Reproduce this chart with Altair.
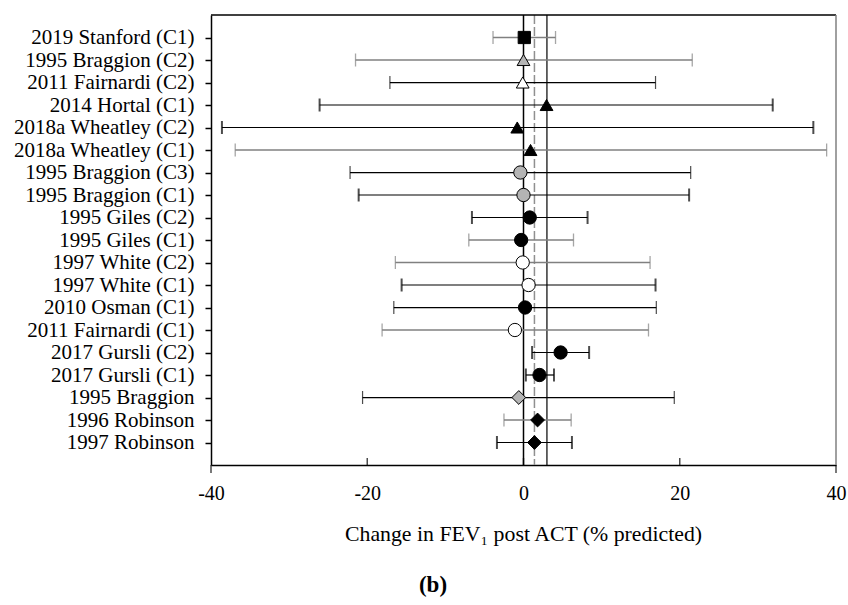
import altair as alt
import pandas as pd

studies = ["2019 Stanford (C1)", "1995 Braggion (C2)", "2011 Fairnardi (C2)", "2014 Hortal (C1)",
           "2018a Wheatley (C2)", "2018a Wheatley (C1)", "1995 Braggion (C3)", "1995 Braggion (C1)",
           "1995 Giles (C2)", "1995 Giles (C1)", "1997 White (C2)", "1997 White (C1)",
           "2010 Osman (C1)", "2011 Fairnardi (C1)", "2017 Gursli (C2)", "2017 Gursli (C1)",
           "1995 Braggion", "1996 Robinson", "1997 Robinson"]
est = [0.1, 0.0, -0.1, 2.95, -0.8, 0.9, -0.4, 0.0, 0.8, -0.3, -0.1, 0.65, 0.2, -1.1, 4.75, 2.05, -0.6, 1.8, 1.4]
lo = [-3.9, -21.5, -17.1, -26.1, -38.6, -36.9, -22.2, -21.1, -6.6, -7.0, -16.4, -15.6, -16.6, -18.1, 1.1, 0.3, -20.6, -2.5, -3.4]
hi = [4.1, 21.6, 16.9, 31.9, 37.1, 38.8, 21.4, 21.2, 8.2, 6.4, 16.2, 16.9, 17.0, 16.0, 8.4, 3.9, 19.3, 6.1, 6.2]
marker = ["square", "triangle", "triangle", "triangle", "triangle", "triangle", "circle", "circle",
          "circle", "circle", "circle", "circle", "circle", "circle", "circle", "circle",
          "diamond", "diamond", "diamond"]
fill_group = ["black", "gray", "white", "black", "black", "black", "gray", "gray", "black", "black",
              "white", "white", "black", "white", "black", "black", "gray", "black", "black"]
line_group = ["gray", "gray", "thin", "thick", "thick", "gray", "thin", "thick", "thick", "gray",
              "gray", "thick", "thin", "gray", "thick", "thick", "thin", "gray", "thick"]
x_ticks = [-40, -20, 0, 20, 40]
inner_ticks = [-20, 0, 20]
edge_ticks = [-40, 40]
ref_zero = [0]
ref_dashed = [1.4]
ref_solid = [3.0]

df = pd.DataFrame({"study": studies, "est": est, "lo": lo, "hi": hi,
                   "marker": marker, "fillg": fill_group, "lineg": line_group})

W, H = 625, 450
FONT = "Liberation Serif"
STEP = H / (len(studies) + 1)

xscale = alt.Scale(domain=[-40, 40], nice=False, zero=False)
yenc = alt.Y("study:N", sort=studies, scale=alt.Scale(type="point", padding=1),
             axis=alt.Axis(title=None, labelFont=FONT, labelFontSize=21, labelColor="black",
                           labelLimit=0, tickColor="black", tickSize=6, tickWidth=1.5, labelPadding=11,
                           domainColor="black", domainWidth=1.5))
ysimple = alt.Y("study:N", sort=studies)

line_color = alt.Color("lineg:N", scale=alt.Scale(domain=["gray", "thin", "thick"],
                                                  range=["#808080", "#000000", "#000000"]), legend=None)
line_width = alt.StrokeWidth("lineg:N", scale=alt.Scale(domain=["gray", "thin", "thick"],
                                                        range=[1.3, 1.2, 2.0]), legend=None)

base = alt.Chart(df)

xaxis = alt.Axis(values=x_ticks, ticks=False, labelFont=FONT, labelFontSize=20, labelColor="black",
                 labelPadding=18, domainColor="black", domainWidth=1.5, grid=False, title=None,
                 labelFlush=False, labelExpr="'' + datum.value")

zero_line = alt.Chart(pd.DataFrame({"v": ref_zero})).mark_rule(color="black", strokeWidth=1.5).encode(
    x=alt.X("v:Q", scale=xscale, axis=xaxis))
dash_line = alt.Chart(pd.DataFrame({"v": ref_dashed})).mark_rule(
    color="#909090", strokeWidth=1.5, strokeDash=[9, 3]).encode(x=alt.X("v:Q", scale=xscale))
solid_line = alt.Chart(pd.DataFrame({"v": ref_solid})).mark_rule(color="black", strokeWidth=1.2).encode(
    x=alt.X("v:Q", scale=xscale))

bars = base.mark_rule().encode(
    x=alt.X("lo:Q", scale=xscale), x2="hi:Q", y=yenc, color=line_color, strokeWidth=line_width)

caps = []
for grp, th in [("gray", 1.3), ("thin", 1.2), ("thick", 2.0)]:
    for fld in ["lo", "hi"]:
        caps.append(base.transform_filter(alt.datum.lineg == grp).mark_tick(
            orient="vertical", size=13, thickness=th).encode(
            x=alt.X(f"{fld}:Q", scale=xscale), y=ysimple, color=line_color))

points = base.mark_point(filled=True, stroke="black", strokeWidth=1, opacity=1).encode(
    x=alt.X("est:Q", scale=xscale), y=ysimple,
    shape=alt.Shape("marker:N", scale=alt.Scale(domain=["square", "triangle", "circle", "diamond"],
                                                range=["square", "triangle-up", "circle", "diamond"]),
                    legend=None),
    fill=alt.Fill("fillg:N", scale=alt.Scale(domain=["black", "gray", "white"],
                                             range=["#000000", "#b4b4b4", "#ffffff"]), legend=None),
    size=alt.Size("marker:N", scale=alt.Scale(domain=["square", "triangle", "circle", "diamond"],
                                              range=[150, 190, 175, 190]), legend=None))

# x-axis tick marks: inward at -20/0/20, outward at the two ends (anchored on the last row)
inner_df = pd.DataFrame({"v": inner_ticks, "study": [studies[-1]] * len(inner_ticks)})
edge_df = pd.DataFrame({"v": edge_ticks, "study": [studies[-1]] * len(edge_ticks)})
inner = alt.Chart(inner_df).mark_tick(orient="vertical", size=7, thickness=1.5, color="black",
                                      yOffset=STEP - 3.5).encode(
    x=alt.X("v:Q", scale=xscale), y=ysimple)
edge = alt.Chart(edge_df).mark_tick(orient="vertical", size=8, thickness=1.5, color="black",
                                    yOffset=STEP + 4).encode(
    x=alt.X("v:Q", scale=xscale), y=ysimple)

top_line = alt.Chart(pd.DataFrame({"v": [0]})).mark_rule(color="black", strokeWidth=1.5).encode(
    x=alt.value(0), x2=alt.value(W), y=alt.value(0))
right_line = alt.Chart(pd.DataFrame({"v": [0]})).mark_rule(color="#808080", strokeWidth=1.5).encode(
    x=alt.value(W), y=alt.value(0), y2=alt.value(H))

title_txt = alt.Chart(pd.DataFrame({"t": ["Change in FEV\u2081 post ACT (% predicted)"]})).mark_text(
    font=FONT, fontSize=21.8, color="black", align="center", baseline="middle").encode(
    text="t:N", x=alt.value(W / 2), y=alt.value(519))
panel_txt = alt.Chart(pd.DataFrame({"t": ["(b)"]})).mark_text(
    font=FONT, fontSize=23, fontWeight="bold", color="black", align="center", baseline="middle").encode(
    text="t:N", x=alt.value(222), y=alt.value(570))

chart = alt.layer(zero_line, dash_line, solid_line, bars, *caps, points, inner, edge,
                  top_line, right_line, title_txt, panel_txt).properties(
    width=W, height=H,
    autosize=alt.AutoSizeParams(type="none"),
    padding={"left": 211, "top": 15, "right": 12, "bottom": 140},
    background="white",
).configure_view(stroke=None)

chart.save("out.html", embed_options={"renderer": "svg", "actions": False})
